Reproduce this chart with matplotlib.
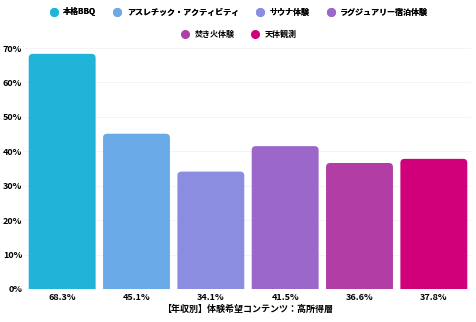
import numpy as np
import matplotlib
matplotlib.use("Agg")
import matplotlib.pyplot as plt
from matplotlib.patches import FancyBboxPatch
from matplotlib.lines import Line2D

plt.rcParams['font.family'] = ['Noto Sans CJK JP', 'DejaVu Sans']

# data
series = ["本格BBQ", "アスレチック・アクティビティ", "サウナ体験", "ラグジュアリー宿泊体験", "焚き火体験", "天体観測"]
values = [68.3, 45.1, 34.1, 41.5, 36.6, 37.8]
colors = ["#21b4d9", "#6aaae8", "#8a8de0", "#9b67c9", "#b03ea5", "#d0007a"]
yticks = [0, 10, 20, 30, 40, 50, 60, 70]
xlabel = "【年収別】体験希望コンテンツ：高所得層"

fig = plt.figure(figsize=(4.77, 3.22), dpi=100)
ax = fig.add_axes([25/477, 33/322, 446/477, 241/322])

x = np.arange(len(values))
bars = ax.bar(x, values, width=0.9, color=colors)
ax.set_xlim(-0.5, len(values) - 0.5)
ax.set_ylim(0, 70)

# rounded tops: swap rectangles for fancy boxes
r = 0.055
for b, c in zip(bars, colors):
    b.set_visible(False)
    p = FancyBboxPatch((b.get_x(), -3), b.get_width(), b.get_height() + 3,
                       boxstyle=f"round,pad=0,rounding_size={r}",
                       mutation_aspect=21.5, facecolor=c, edgecolor='none',
                       clip_on=True, zorder=2)
    ax.add_patch(p)

ax.set_yticks(yticks)
ax.set_yticklabels([f"{v}%" for v in yticks], fontsize=6.5, fontweight='bold')
ax.set_xticks(x)
ax.set_xticklabels([f"{v}%" for v in values], fontsize=6.5, fontweight='bold')
ax.tick_params(length=0, pad=3)
ax.tick_params(axis='y', pad=2)
ax.set_xlabel(xlabel, fontsize=6.5, fontweight='bold', labelpad=2)
ax.grid(axis='y', color='#f3f3f3', linewidth=0.6, zorder=0)
ax.set_axisbelow(True)
for s in ax.spines.values():
    s.set_visible(False)

handles = [Line2D([], [], marker='o', linestyle='none', markersize=5.5,
                  markerfacecolor=c, markeredgecolor=c) for c in colors]
kw = dict(loc='center', frameon=False, prop={'size': 5.8, 'weight': 'bold'},
          handletextpad=0.6, columnspacing=2.0, handlelength=1.2)
leg1 = fig.legend(handles[:4], series[:4], ncol=4,
                  bbox_to_anchor=(0.5, 1 - 12/322), **kw)
leg2 = fig.legend(handles[4:], series[4:], ncol=2,
                  bbox_to_anchor=(0.5, 1 - 34/322), **kw)
fig.add_artist(leg1)

fig.savefig("out.png", dpi=100)
